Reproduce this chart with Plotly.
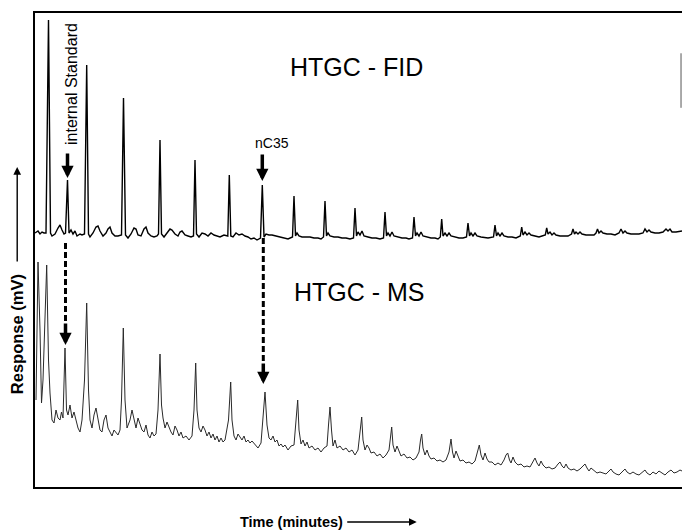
import plotly.graph_objects as go

# ---------------- data (time in minutes, response in mV) ----------------
fid_time = [0.0, 0.3, 0.5, 0.7, 0.9, 1.1, 1.35, 1.55, 1.7, 2.0, 2.3, 2.5, 2.7, 2.9, 3.05, 3.25, 3.4, 3.6, 3.8, 4.0,
            4.2, 4.5, 4.7, 4.95, 5.17, 5.35, 5.5, 5.8, 6.1, 6.3, 6.5, 6.8, 7.1, 7.3, 7.5, 7.7, 8.0, 8.3, 8.65, 8.85,
            9.05, 9.3, 9.6, 9.9, 10.1, 10.3, 10.6, 10.9, 11.1, 11.3, 11.6, 11.9, 12.2, 12.35, 12.5, 12.65, 12.9, 13.2,
            13.5, 13.7, 14.0, 14.3, 14.5, 14.7, 15.0, 15.3, 15.6, 15.85, 16.0, 16.15, 16.4, 16.7, 17.0, 17.3, 17.6,
            17.9, 18.2, 18.5, 18.9, 19.28, 19.43, 19.58, 19.8, 20.1, 20.4, 20.7, 21.0, 21.3, 21.6, 21.9, 22.2, 22.55,
            22.73, 22.9, 23.1, 23.4, 23.7, 24.1, 24.5, 24.9, 25.3, 25.75, 25.9, 26.05, 26.2, 26.4, 26.7, 27.1, 27.5,
            27.9, 28.3, 28.6, 28.85, 29.0, 29.15, 29.3, 29.5, 29.9, 30.3, 30.7, 31.1, 31.5, 31.85, 32.0, 32.15, 32.3,
            32.5, 32.7, 32.9, 33.3, 33.7, 34.1, 34.5, 34.85, 35.0, 35.15, 35.3, 35.5, 35.7, 35.9, 36.3, 36.7, 37.1,
            37.4, 37.75, 37.9, 38.05, 38.2, 38.4, 38.6, 38.8, 39.2, 39.6, 40.0, 40.3, 40.53, 40.67, 40.8, 41.0, 41.2,
            41.4, 41.6, 42.0, 42.4, 42.8, 43.15, 43.3, 43.45, 43.6, 43.8, 44.0, 44.2, 44.6, 45.0, 45.3, 45.85, 46.0,
            46.15, 46.3, 46.5, 46.7, 46.9, 47.3, 47.7, 48.1, 48.53, 48.67, 48.8, 49.0, 49.2, 49.4, 49.6, 50.0, 50.4,
            50.7, 51.03, 51.17, 51.3, 51.5, 51.7, 51.9, 52.1, 52.5, 52.9, 53.3, 53.65, 53.8, 53.95, 54.1, 54.3, 54.5,
            54.7, 55.1, 55.5, 55.9, 56.1, 56.25, 56.4, 56.6, 56.8, 57.2, 57.6, 58.0, 58.4, 58.6, 58.8, 59.0, 59.2,
            59.6, 60.0, 60.4, 60.8, 61.0, 61.2, 61.4, 61.6, 62.0, 62.4, 62.8, 63.1, 63.3, 63.5, 63.7, 64.1, 64.5, 64.7]
fid_mv = [254, 256, 253, 255, 254, 254, 467, 254, 251, 253, 259, 262, 257, 253, 254, 307, 254, 257, 253, 256,
          251, 253, 252, 253, 422, 253, 250, 254, 260, 261, 256, 251, 254, 258, 260, 254, 251, 251, 252, 389,
          252, 249, 253, 259, 258, 252, 251, 258, 260, 254, 251, 250, 251, 253, 347, 253, 250, 254,
          258, 257, 253, 251, 255, 256, 252, 251, 250, 251, 327, 253, 250, 254, 253, 251, 254,
          252, 251, 250, 252, 251, 312, 251, 250, 254, 252, 253, 251, 250, 248, 249, 247, 249,
          302, 250, 253, 252, 252, 251, 250, 249, 248, 250, 291, 251, 254, 251, 250, 250, 250,
          249, 249, 248, 250, 286, 251, 254, 251, 250, 250, 249, 249, 248, 249, 279, 251, 255,
          252, 256, 251, 250, 249, 249, 248, 249, 275, 251, 254, 251, 255, 251, 250, 249, 249,
          248, 249, 270, 251, 254, 251, 255, 251, 250, 249, 249, 248, 250, 268, 251, 254, 251,
          254, 251, 250, 249, 249, 250, 264, 251, 254, 251, 254, 251, 250, 249, 249, 250, 262,
          251, 254, 251, 254, 251, 250, 250, 249, 251, 260, 252, 255, 252, 254, 252, 251, 250,
          251, 252, 259, 253, 255, 252, 254, 252, 251, 251, 251, 253, 258, 253, 255, 253, 255,
          253, 252, 252, 252, 254, 258, 254, 256, 254, 253, 253, 252, 254, 258, 254, 256, 254,
          253, 253, 253, 254, 258, 255, 257, 255, 254, 254, 255, 258, 256, 258, 255, 255, 256, 256]

ms_time = [0.1, 0.3, 0.5, 0.65, 0.8, 1.17, 1.35, 1.5, 1.7, 1.9, 2.1, 2.3, 2.5, 2.65, 2.8, 3.0, 3.15, 3.3, 3.5, 3.7,
           3.9, 4.1, 4.3, 4.5, 4.7, 4.95, 5.17, 5.35, 5.5, 5.7, 5.9, 6.1, 6.3, 6.5, 6.7, 6.9, 7.1, 7.3, 7.5, 7.7,
           7.9, 8.1, 8.3, 8.5, 8.65, 8.83, 9.0, 9.2, 9.5, 9.7, 9.9, 10.1, 10.3, 10.5, 10.7, 10.9, 11.1, 11.3, 11.5,
           11.7, 11.9, 12.1, 12.3, 12.5, 12.65, 12.8, 13.0, 13.2, 13.4, 13.6, 13.8, 14.0, 14.2, 14.4, 14.6, 14.8,
           15.1, 15.4, 15.7, 15.9, 16.07, 16.2, 16.4, 16.6, 16.8, 17.0, 17.2, 17.4, 17.6, 17.8, 18.0, 18.2, 18.4,
           18.6, 18.8, 19.0, 19.35, 19.57, 19.7, 19.9, 20.1, 20.3, 20.5, 20.7, 20.9, 21.1, 21.3, 21.5, 21.7, 22.0,
           22.3, 22.6, 22.8, 23.0, 23.2, 23.4, 23.6, 23.8, 24.0, 24.2, 24.4, 24.6, 24.8, 25.0, 25.3, 25.6, 25.9,
           26.1, 26.27, 26.4, 26.6, 26.8, 27.0, 27.2, 27.4, 27.7, 28.0, 28.3, 28.6, 28.9, 29.2, 29.35, 29.5, 29.65,
           29.8, 30.0, 30.2, 30.5, 30.8, 31.1, 31.4, 31.7, 32.0, 32.3, 32.5, 32.67, 32.8, 33.0, 33.2, 33.4, 33.6,
           33.9, 34.2, 34.5, 34.8, 35.1, 35.4, 35.55, 35.67, 35.8, 36.0, 36.2, 36.4, 36.6, 36.9, 37.2, 37.5, 37.8,
           38.1, 38.4, 38.55, 38.67, 38.8, 39.0, 39.2, 39.4, 39.6, 39.9, 40.2, 40.5, 40.8, 41.1, 41.4, 41.6, 41.75,
           41.9, 42.1, 42.3, 42.5, 42.8, 43.1, 43.4, 43.7, 44.0, 44.25, 44.43, 44.6, 44.8, 45.0, 45.2, 45.4, 45.7,
           46.0, 46.3, 46.6, 46.9, 47.1, 47.27, 47.45, 47.6, 47.8, 48.0, 48.3, 48.6, 48.9, 49.2, 49.5, 49.8, 50.0,
           50.2, 50.4, 50.6, 50.8, 51.1, 51.4, 51.7, 52.0, 52.3, 52.5, 52.7, 52.9, 53.1, 53.3, 53.6, 53.9, 54.2,
           54.5, 54.8, 55.0, 55.2, 55.4, 55.6, 55.9, 56.2, 56.5, 56.8, 57.1, 57.4, 57.6, 57.8, 58.1, 58.4, 58.7,
           59.0, 59.2, 59.5, 59.8, 60.1, 60.4, 60.7, 61.0, 61.2, 61.5, 61.8, 62.1, 62.4, 62.7, 63.0, 63.3, 63.6,
           63.9, 64.2, 64.5, 64.7]
ms_mv = [87, 225, 157, 84, 107, 222, 127, 94, 67, 64, 77, 69, 67, 75, 69, 139, 77, 72, 82, 69,
         75, 67, 59, 55, 67, 107, 184, 97, 67, 59, 72, 79, 67, 57, 55, 67, 72, 59, 55, 51,
         57, 55, 52, 57, 87, 159, 87, 59, 67, 77, 67, 59, 69, 63, 57, 55, 62, 52, 49,
         55, 51, 53, 77, 133, 82, 69, 59, 65, 59, 55, 52, 61, 57, 51, 55, 49,
         51, 47, 51, 77, 124, 77, 59, 55, 61, 57, 51, 55, 49, 53, 47, 51, 45,
         49, 45, 47, 67, 105, 67, 51, 47, 53, 50, 47, 51, 45, 47, 44, 46, 42,
         39, 44, 67, 95, 62, 49, 47, 51, 45, 47, 41, 43, 40, 42, 37, 41, 42,
         67, 87, 57, 43, 47, 41, 45, 39, 41, 37, 39, 35, 39, 41, 62, 80, 57,
         41, 47, 39, 41, 37, 39, 35, 37, 32, 37, 57, 70, 47, 37, 42, 39, 34,
         35, 31, 33, 29, 32, 37, 52, 60, 42, 35, 41, 35, 31, 33, 29, 30, 27,
         29, 35, 47, 53, 39, 32, 37, 31, 28, 29, 26, 27, 25, 27, 35, 48, 35,
         29, 36, 30, 26, 27, 24, 25, 23, 26, 35, 42, 32, 27, 34, 28, 25, 25,
         22, 24, 22, 27, 32, 34, 27, 24, 30, 25, 22, 23, 20, 21, 20, 26, 29,
         24, 21, 26, 22, 19, 20, 18, 19, 23, 25, 21, 19, 23, 19, 17, 18, 16,
         18, 21, 23, 19, 16, 19, 16, 14, 15, 14, 13, 16, 18, 15, 13, 12, 15,
         18, 15, 13, 15, 13, 12, 15, 17, 14, 12, 15, 13, 16, 14, 12, 15, 17,
         14, 15, 17, 16]

# labelled peaks (retention times, minutes)
is_fid_time = 3.25      # internal standard, FID
is_ms_time = 3.05       # internal standard, MS
nc35_fid_time = 22.73   # nC35, FID
nc35_ms_time = 22.83    # nC35, MS

label_fid = "HTGC - FID"
label_ms = "HTGC - MS"
label_is = "internal Standard"
label_nc35 = "nC35"
x_title = "Time (minutes)"
y_title = "Response (mV)"

# ---------------- figure ----------------
W, H = 682, 531
ML, MR, MT, MB = 35, 0, 13, 44
X_RANGE = [0, 64.7]
Y_RANGE = [0, 474]

fig = go.Figure()
fig.add_trace(go.Scatter(x=fid_time, y=fid_mv, mode="lines",
                         line=dict(color="#000000", width=1.4), hoverinfo="skip"))
fig.add_trace(go.Scatter(x=ms_time, y=ms_mv, mode="lines",
                         line=dict(color="#2a2a2a", width=1.0), hoverinfo="skip"))

FONT = "Liberation Sans, Arial, Helvetica, sans-serif"
ann = []
# chromatogram labels
ann.append(dict(x=32.1, y=420, xref="x", yref="y", text=label_fid, showarrow=False,
                xanchor="center", yanchor="middle",
                font=dict(family=FONT, size=25, color="#000")))
ann.append(dict(x=32.4, y=195, xref="x", yref="y", text=label_ms, showarrow=False,
                xanchor="center", yanchor="middle",
                font=dict(family=FONT, size=25, color="#000")))
ann.append(dict(x=3.6, y=403, xref="x", yref="y", text=label_is, showarrow=False, textangle=-90,
                xanchor="center", yanchor="middle",
                font=dict(family=FONT, size=16, color="#000")))
ann.append(dict(x=23.7, y=344, xref="x", yref="y", text=label_nc35, showarrow=False,
                xanchor="center", yanchor="middle",
                font=dict(family=FONT, size=14, color="#000")))

# solid arrows on the FID trace
for t, tail, tip in [(is_fid_time, 335, 309), (nc35_fid_time, 334, 306)]:
    ann.append(dict(x=t, y=tip, xref="x", yref="y", ax=t, ay=tail, axref="x", ayref="y",
                    text="", showarrow=True, arrowhead=2, arrowsize=0.7, arrowwidth=3.5,
                    arrowcolor="#000"))
# arrows ending the dashed connectors on the MS trace
for t, tail, tip in [(is_ms_time, 165, 142), (nc35_ms_time, 125, 103)]:
    ann.append(dict(x=t, y=tip, xref="x", yref="y", ax=t, ay=tail, axref="x", ayref="y",
                    text="", showarrow=True, arrowhead=2, arrowsize=0.7, arrowwidth=3.5,
                    arrowcolor="#000"))

# axis titles with arrows
ann.append(dict(x=-0.0275, y=0.3228, xref="paper", yref="paper", text="<b>" + y_title + "</b>",
                xanchor="center", yanchor="middle",
                showarrow=False, textangle=-90, font=dict(family=FONT, size=16.5, color="#000")))
ann.append(dict(x=-0.0275, y=0.675, xref="paper", yref="paper", ax=0, ay=96, text="",
                showarrow=True, arrowhead=2, arrowsize=1.1, arrowwidth=1.4, arrowcolor="#000"))
ann.append(dict(x=0.396, y=-0.0738, xref="paper", yref="paper", text="<b>" + x_title + "</b>",
                xanchor="center", yanchor="middle",
                showarrow=False, font=dict(family=FONT, size=14.5, color="#000")))
ann.append(dict(x=0.590, y=-0.0738, xref="paper", yref="paper", ax=-71, ay=0, text="",
                showarrow=True, arrowhead=2, arrowsize=1.1, arrowwidth=1.4, arrowcolor="#000"))

shapes = []
# dashed connectors FID -> MS
shapes.append(dict(type="line", xref="x", yref="y", x0=is_ms_time, x1=is_ms_time, y0=244, y1=163,
                   line=dict(color="#000", width=3, dash="6px,3px")))
shapes.append(dict(type="line", xref="x", yref="y", x0=nc35_ms_time, x1=nc35_ms_time, y0=249, y1=123,
                   line=dict(color="#000", width=3, dash="6px,3px")))
# short piece of right frame
shapes.append(dict(type="line", xref="paper", yref="paper", x0=0.9985, x1=0.9985, y0=0.80, y1=0.915,
                   line=dict(color="#555", width=1)))

fig.update_layout(
    width=W, height=H,
    margin=dict(l=ML, r=MR, t=MT, b=MB, pad=0),
    paper_bgcolor="white", plot_bgcolor="white",
    showlegend=False,
    annotations=ann, shapes=shapes,
    xaxis=dict(range=X_RANGE, showgrid=False, zeroline=False, showticklabels=False, ticks="",
               showline=True, mirror=True, linecolor="#000", linewidth=2, fixedrange=True),
    yaxis=dict(range=Y_RANGE, showgrid=False, zeroline=False, showticklabels=False, ticks="",
               showline=True, mirror=False, linecolor="#000", linewidth=2, fixedrange=True),
)

fig.write_html("out.html", config=dict(displayModeBar=False))
